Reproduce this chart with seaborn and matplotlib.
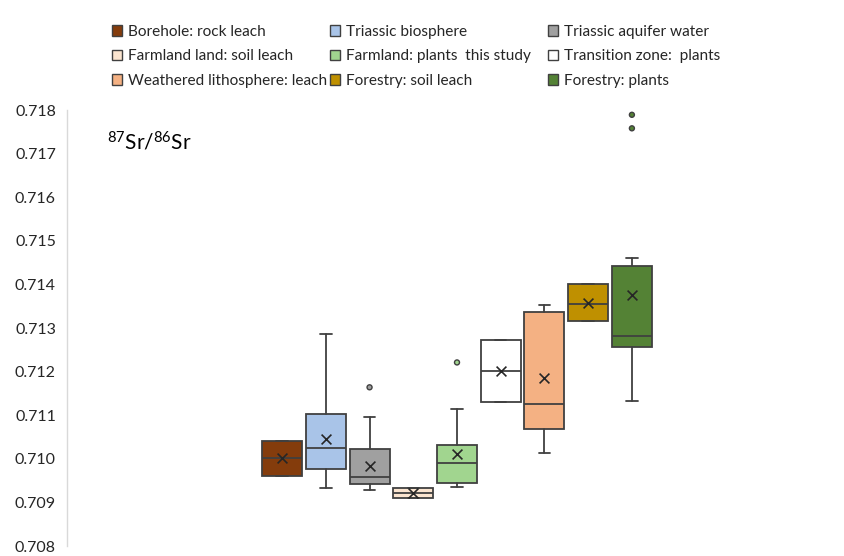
import matplotlib
matplotlib.use("Agg")
import matplotlib.pyplot as plt
import seaborn as sns
import pandas as pd
from matplotlib.patches import Patch

# ---------------- data ----------------
series = ["Borehole: rock leach", "Triassic biosphere", "Triassic aquifer water",
          "Farmland land: soil leach", "Farmland: plants  this study", "Transition zone:  plants",
          "Weathered lithosphere: leach", "Forestry: soil leach", "Forestry: plants"]
colors = ["#843C0C", "#A9C4E8", "#A0A0A0", "#FBE5D0", "#A1D58F", "#FFFFFF",
          "#F4B183", "#BF9000", "#548235"]
q1 = [0.70961, 0.70976, 0.70942, 0.70911, 0.70945, 0.71130, 0.71068, 0.71317, 0.71256]
median = [0.71002, 0.71024, 0.70958, 0.70922, 0.70990, 0.71201, 0.71125, 0.71354, 0.71282]
q3 = [0.71041, 0.71102, 0.71023, 0.70933, 0.71032, 0.71273, 0.71336, 0.71400, 0.71443]
whislo = [0.70961, 0.70933, 0.70928, 0.70911, 0.70935, 0.71130, 0.71013, 0.71317, 0.71133]
whishi = [0.71041, 0.71286, 0.71097, 0.70933, 0.71115, 0.71273, 0.71353, 0.71400, 0.71461]
means = [0.71002, 0.71045, 0.70984, 0.70922, 0.71010, 0.71201, 0.71186, 0.71357, 0.71376]
outlier_series = ["Triassic aquifer water", "Farmland: plants  this study", "Forestry: plants", "Forestry: plants"]
outlier_values = [0.71164, 0.71221, 0.71789, 0.71758]
yticks = [0.708, 0.709, 0.710, 0.711, 0.712, 0.713, 0.714, 0.715, 0.716, 0.717, 0.718]
ylabel_text = r"$^{87}$Sr/$^{86}$Sr"

# ---------------- style ----------------
sns.set_theme(style="white")
plt.rcParams['font.family'] = ['Lato', 'DejaVu Sans']
plt.rcParams['mathtext.fontset'] = 'custom'
plt.rcParams['mathtext.rm'] = 'Lato'
plt.rcParams['mathtext.it'] = 'Lato:italic'
plt.rcParams['mathtext.bf'] = 'Lato:bold'

edge = "#404040"
fig = plt.figure(figsize=(8.45, 5.56), dpi=100)
ax = fig.add_axes([67 / 845, 1 - 546 / 556, (836 - 67) / 845, (546 - 110) / 556])

positions = list(range(len(series)))
stats = [dict(label=s, q1=a, med=m, q3=b, whislo=lo, whishi=hi, mean=mu, fliers=[])
         for s, a, m, b, lo, hi, mu in zip(series, q1, median, q3, whislo, whishi, means)]
bp = ax.bxp(stats, positions=positions, widths=0.915, patch_artist=True,
            showfliers=False, showmeans=False, capwidths=0.26,
            boxprops=dict(edgecolor=edge, linewidth=1.3),
            medianprops=dict(color=edge, linewidth=1.3),
            whiskerprops=dict(color=edge, linewidth=1.3),
            capprops=dict(color=edge, linewidth=1.3))
for patch, c in zip(bp['boxes'], colors):
    patch.set_facecolor(c)

mean_df = pd.DataFrame({"pos": positions, "mean": means})
sns.scatterplot(data=mean_df, x="pos", y="mean", marker="x", color="#262626",
                s=50, linewidth=1.2, ax=ax, zorder=5)

out_df = pd.DataFrame({"series": outlier_series, "value": outlier_values})
out_df["pos"] = [series.index(s) for s in outlier_series]
pal = dict(zip(series, colors))
sns.scatterplot(data=out_df, x="pos", y="value", hue="series", palette=pal,
                marker="o", s=13, edgecolor=edge, linewidth=1.0, legend=False,
                ax=ax, zorder=5)

ax.set_ylim(0.708, 0.718)
ax.set_xlim(-(282 - 67) / 43.7, 8 + (836 - 632) / 43.7)
ax.set_yticks(yticks)
ax.set_yticklabels([f"{v:.3f}" for v in yticks], fontsize=11.5, color="#262626")
ax.set_xticks([])
ax.tick_params(axis='y', length=0, pad=8)
ax.set_xlabel("")
ax.set_ylabel("")
for side in ["top", "right", "bottom"]:
    ax.spines[side].set_visible(False)
ax.spines["left"].set_color("#D9D9D9")
ax.spines["left"].set_linewidth(1.0)

fig.text(107 / 845, 1 - 150 / 556, ylabel_text, fontsize=15, color="#000000", va="baseline", ha="left")

# legend: three columns, row-major order
col_x = [112, 330, 548]
for c in range(3):
    idx = [c, c + 3, c + 6]
    handles = [Patch(facecolor=colors[i], edgecolor=edge, linewidth=1.0) for i in idx]
    labels = [series[i] for i in idx]
    fig.legend(handles, labels, loc="upper left", bbox_to_anchor=(col_x[c] / 845, 1 - 25 / 556),
               frameon=False, fontsize=11.1, handlelength=0.65, handleheight=0.65,
               handletextpad=0.4, labelspacing=0.68, borderpad=0, borderaxespad=0,
               labelcolor="#262626")

fig.savefig("out.png", dpi=100)
